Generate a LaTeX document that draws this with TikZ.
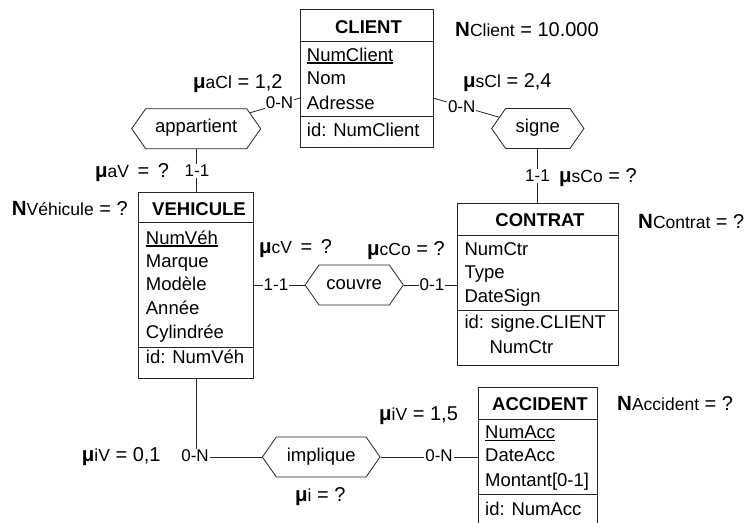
\documentclass[tikz,border=0pt]{standalone}
\usepackage{fontspec}
\setmainfont{Liberation Sans}
\usetikzlibrary{shapes.symbols,calc}
\newcommand\fsz[1]{\fontsize{#1}{#1}\selectfont}
\newcommand\muann[1]{{\fsz{20.5}\bfseries μ}{\fsz{17.5}#1}}
\newcommand\Nann[1]{{\fsz{20.5}\bfseries N}{\fsz{17.5}#1}}
\begin{document}
\begin{tikzpicture}[x=1pt,y=-1pt,
  ln/.style={line width=0.8pt, draw=black!85},
  ebox/.style={draw=black!85, line width=0.8pt, inner sep=0, anchor=north west},
  ttl/.style={inner sep=0, anchor=base, font=\bfseries\fsz{18.5}},
  attr/.style={inner sep=0, anchor=base west, font=\fsz{18.5}},
  uline/.style={line width=1.1pt, draw=black},
  role/.style={fill=white, inner sep=1pt, anchor=base, font=\fsz{17}},
  rel/.style={shape=signal, signal to=west and east, signal pointer angle=110,
    draw=black!85, line width=0.8pt, fill=white, minimum height=40pt, inner sep=0pt,
    font=\fsz{18.5}, text height=11.5pt, text depth=3pt},
  note/.style={inner sep=0, anchor=base west, font=\fsz{20}}]

\useasboundingbox (0,0) rectangle (744,522);
\fill[white] (0,0) rectangle (744,522);

% ---------- entity CLIENT ----------
\node[ebox, minimum width=133pt, minimum height=138pt] (client) at (300,9) {};
\draw[ln] (client.west |- 0,41.3) -- (client.east |- 0,41.3);
\draw[ln] (client.west |- 0,116.7) -- (client.east |- 0,116.7);
\node[ttl] (clientT) at (368.5,33.3) {CLIENT};
\node[attr] (clientA1) at (306.7,61) {NumClient};
\draw[uline] ($(clientA1.base west)+(0,2)$) -- ($(clientA1.base east)+(0,2)$);
\node[attr] (clientA2) at (306.7,84.5) {Nom};
\node[attr] (clientA3) at (306.7,109) {Adresse};
\node[attr] (clientId) at (306.7,136) {id: NumClient};

% ---------- entity VEHICULE ----------
\node[ebox, minimum width=114.4pt, minimum height=186.6pt] (veh) at (138.3,191.7) {};
\draw[ln] (veh.west |- 0,222.7) -- (veh.east |- 0,222.7);
\draw[ln] (veh.west |- 0,347.3) -- (veh.east |- 0,347.3);
\node[ttl] (vehT) at (199,215) {VEHICULE};
\node[attr] (vehA1) at (145.7,244) {NumVéh};
\draw[uline] ($(vehA1.base west)+(0,2)$) -- ($(vehA1.base east)+(0,2)$);
\node[attr] (vehA2) at (145.7,267) {Marque};
\node[attr] (vehA3) at (145.7,290.7) {Modèle};
\node[attr] (vehA4) at (145.7,314) {Année};
\node[attr] (vehA5) at (145.7,338.3) {Cylindrée};
\node[attr] (vehId) at (145.7,363.3) {id: NumVéh};

% ---------- entity CONTRAT ----------
\node[ebox, minimum width=161pt, minimum height=162pt] (ctr) at (456.7,203.3) {};
\draw[ln] (ctr.west |- 0,235) -- (ctr.east |- 0,235);
\draw[ln] (ctr.west |- 0,310.7) -- (ctr.east |- 0,310.7);
\node[ttl] (ctrT) at (540,226.7) {CONTRAT};
\node[attr] (ctrA1) at (464.3,255) {NumCtr};
\node[attr] (ctrA2) at (464.3,278.3) {Type};
\node[attr] (ctrA3) at (464.3,302.7) {DateSign};
\node[attr] (ctrId1) at (464.3,328.3) {id: signe.CLIENT};
\node[attr] (ctrId2) at (489.3,353.3) {NumCtr};

% ---------- entity ACCIDENT (runs off the lower edge) ----------
\node[ebox, minimum width=119pt, minimum height=140pt] (acc) at (477.7,387.3) {};
\draw[ln] (acc.west |- 0,419.3) -- (acc.east |- 0,419.3);
\draw[ln] (acc.west |- 0,494.3) -- (acc.east |- 0,494.3);
\node[ttl] (accT) at (540,410) {ACCIDENT};
\node[attr] (accA1) at (485,438.3) {NumAcc};
\draw[uline] ($(accA1.base west)+(0,2)$) -- ($(accA1.base east)+(0,2)$);
\node[attr] (accA2) at (485,461.7) {DateAcc};
\node[attr] (accA3) at (485,486.7) {Montant[0-1]};
\node[attr] (accId) at (485,515) {id: NumAcc};

% ---------- relationship types ----------
\node[rel, minimum width=129pt] (apr) at (196.2,128.7) {appartient};
\node[rel, minimum width=92.3pt] (sig) at (537.8,128.5) {signe};
\node[rel, minimum width=98.3pt] (couv) at (354.2,285) {couvre};
\node[rel, minimum width=117.7pt] (impl) at (321.2,457) {implique};

% ---------- connectors ----------
\coordinate (clW) at (300,98);
\coordinate (clE) at (433,98);
\draw[ln] (apr) -- (clW);
\draw[ln] (clE) -- (sig);
\draw[ln] (apr.south) -- (apr.south |- veh.north);
\draw[ln] (sig.south) -- (sig.south |- ctr.north);
\draw[ln] (couv.west) -- (couv.west -| veh.east);
\draw[ln] (couv.east) -- (couv.east -| ctr.west);
\draw[ln] (veh.south) |- (impl.west);
\draw[ln] (impl.east) -- (impl.east -| acc.west);

% ---------- role cardinalities ----------
\node[role] (rA1) at (279.5,108) {0-N};
\node[role] (rS1) at (461.7,112) {0-N};
\node[role] (rA2) at (197,176.7) {1-1};
\node[role] (rS2) at (537.5,181.7) {1-1};
\node[role] (rC1) at (276,290) {1-1};
\node[role] (rC2) at (432,290) {0-1};
\node[role] (rI1) at (195,461.7) {0-N};
\node[role] (rI2) at (439,461.7) {0-N};

% ---------- statistics ----------
\node[note] (nCl) at (455,36) {\Nann{Client} = 10.000};
\node[note] (muaCl) at (193,88) {\muann{aCl} = 1,2};
\node[note] (musCl) at (463,87) {\muann{sCl} = 2,4};
\node[note] (muaV) at (95,177) {\muann{aV}\hspace{3pt} = \hspace{3pt}?};
\node[note] (nVe) at (11.7,215) {\Nann{Véhicule} = ?};
\node[note] (musCo) at (559,182) {\muann{sCo} = ?};
\node[note] (nCo) at (638,228) {\Nann{Contrat} = ?};
\node[note] (mucV) at (259,253) {\muann{cV}\hspace{3pt} = \hspace{3pt}?};
\node[note] (mucCo) at (367,255) {\muann{cCo} = ?};
\node[note] (muiV2) at (379,420) {\muann{iV} = 1,5};
\node[note] (nAc) at (617,410.7) {\Nann{Accident} = ?};
\node[note] (muiV1) at (81.7,461.7) {\muann{iV} = 0,1};
\node[note] (mui) at (295,501.7) {\muann{i} = ?};
\end{tikzpicture}
\end{document}
